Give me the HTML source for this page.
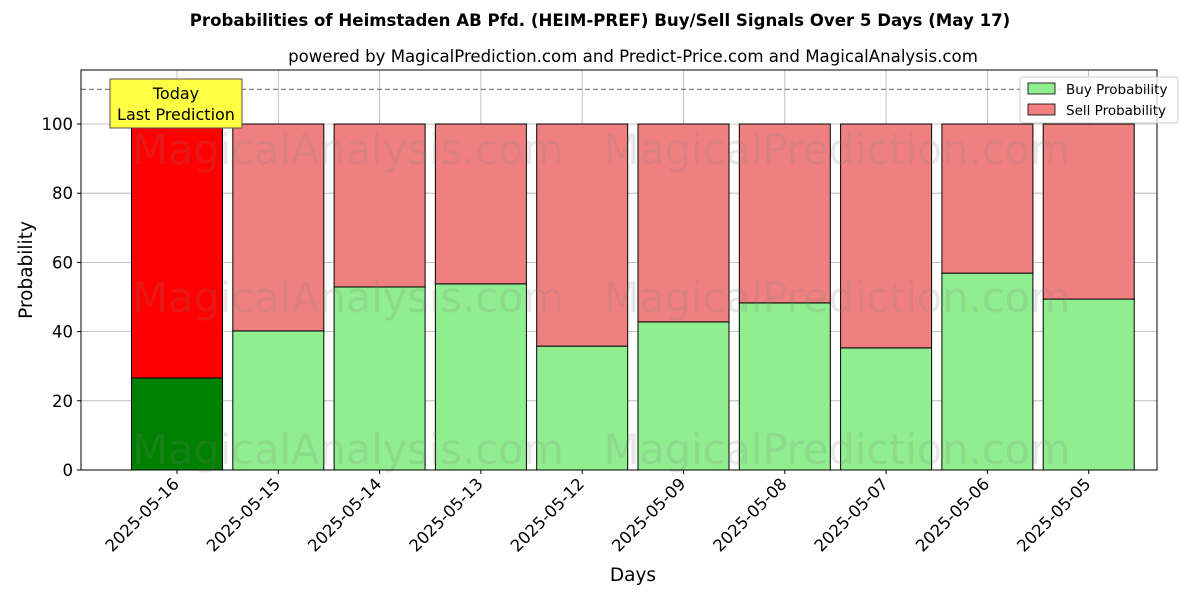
<!DOCTYPE html>
<html><head><meta charset="utf-8"><style>
body{margin:0;background:#fff;font-family:"DejaVu Sans","Liberation Sans",sans-serif;}
svg text{font-family:"DejaVu Sans","Liberation Sans",sans-serif;}
</style></head><body>
<svg id="c" width="1200" height="600" xmlns="http://www.w3.org/2000/svg">
<rect width="1200" height="600" fill="#fff"/>
<text x="600" y="26" text-anchor="middle" font-size="16.6" font-weight="bold">Probabilities of Heimstaden AB Pfd. (HEIM-PREF) Buy/Sell Signals Over 5 Days (May 17)</text>
<text x="633" y="62" text-anchor="middle" font-size="16.6">powered by MagicalPrediction.com and Predict-Price.com and MagicalAnalysis.com</text>
<g id="plot"></g>
</svg>
<script>
const categories=["2025-05-16","2025-05-15","2025-05-14","2025-05-13","2025-05-12","2025-05-09","2025-05-08","2025-05-07","2025-05-06","2025-05-05"];
const buyValues=[26.6,40.2,52.9,53.8,35.8,42.8,48.3,35.3,56.9,49.4];
const sellValues=buyValues.map(v=>100-v);
const yTicks=[0,20,40,60,80,100];
const NS="http://www.w3.org/2000/svg";
const L=81,R=1157,T=70,B=470;
const y=v=>B-v*3.46;
const x=i=>177+i*101.3;
const bw=91;
const g=document.getElementById('plot');
function el(t,a,p){const e=document.createElementNS(NS,t);for(const k in a)e.setAttribute(k,a[k]);(p||g).appendChild(e);return e;}
yTicks.forEach(t=>{const l=el('line',{x1:L,x2:R,y1:y(t),y2:y(t),stroke:'#b0b0b0','stroke-width':0.8});

});
categories.forEach((c,i)=>{const l=el('line',{x1:x(i),x2:x(i),y1:T,y2:B,stroke:'#b0b0b0','stroke-width':0.8});

});
categories.forEach((c,i)=>{
const b=el('rect',{x:x(i)-bw/2,y:y(buyValues[i]),width:bw,height:y(0)-y(buyValues[i]),fill:i==0?'#008000':'#90ee90',stroke:'#000','stroke-width':1});


const s=el('rect',{x:x(i)-bw/2,y:y(buyValues[i]+sellValues[i]),width:bw,height:y(buyValues[i])-y(buyValues[i]+sellValues[i]),fill:i==0?'#ff0000':'#f08080',stroke:'#000','stroke-width':1});


});
[[348,150,'MagicalAnalysis.com'],[837,150,'MagicalPrediction.com'],[348,298,'MagicalAnalysis.com'],[837,298,'MagicalPrediction.com'],[348,450,'MagicalAnalysis.com'],[837,450,'MagicalPrediction.com']].forEach(w=>{
const t=el('text',{x:w[0],y:w[1]+14,'text-anchor':'middle','font-size':41.5,fill:'rgba(128,128,128,0.18)'});t.textContent=w[2];

});
const d=el('line',{x1:L,x2:R,y1:y(110),y2:y(110),stroke:'#808080','stroke-width':1.2,'stroke-dasharray':'5,3'});


const ax=el('rect',{x:L,y:T,width:R-L,height:B-T,fill:'none',stroke:'#000','stroke-width':1});


yTicks.forEach(t=>{el('line',{x1:L-4,x2:L,y1:y(t),y2:y(t),stroke:'#000'});
const tx=el('text',{x:L-8,y:y(t)+6,'text-anchor':'end','font-size':16.5});tx.textContent=t;

});
categories.forEach((c,i)=>{el('line',{x1:x(i),x2:x(i),y1:B,y2:B+4,stroke:'#000'});
const tx=el('text',{x:x(i)+3,y:B+15,'text-anchor':'end','font-size':16.5,transform:`rotate(-45 ${x(i)+3} ${B+15})`});tx.textContent=c;

});
const xt=el('text',{x:633,y:581,'text-anchor':'middle','font-size':18.5});xt.textContent='Days';


const yt=el('text',{x:32,y:270,'text-anchor':'middle','font-size':18.5,transform:'rotate(-90 32 270)'});yt.textContent='Probability';


const ab=el('rect',{x:110,y:79,width:132,height:49,fill:'#ffff44',stroke:'#555','stroke-width':1});


const a1=el('text',{x:176,y:99,'text-anchor':'middle','font-size':16});a1.textContent='Today';


const a2=el('text',{x:176,y:120,'text-anchor':'middle','font-size':16});a2.textContent='Last Prediction';


const lg=el('rect',{x:1020,y:77,width:158,height:46,fill:'#fff','fill-opacity':0.8,stroke:'#ccc',rx:3});


[['Buy Probability','#90ee90',83],['Sell Probability','#f08080',104]].forEach(e=>{
const r=el('rect',{x:1028,y:e[2],width:27,height:11,fill:e[1],stroke:'#000','stroke-width':0.8});


const t=el('text',{x:1066,y:e[2]+11,'font-size':13.5});t.textContent=e[0];

});
</script>
</body></html>
